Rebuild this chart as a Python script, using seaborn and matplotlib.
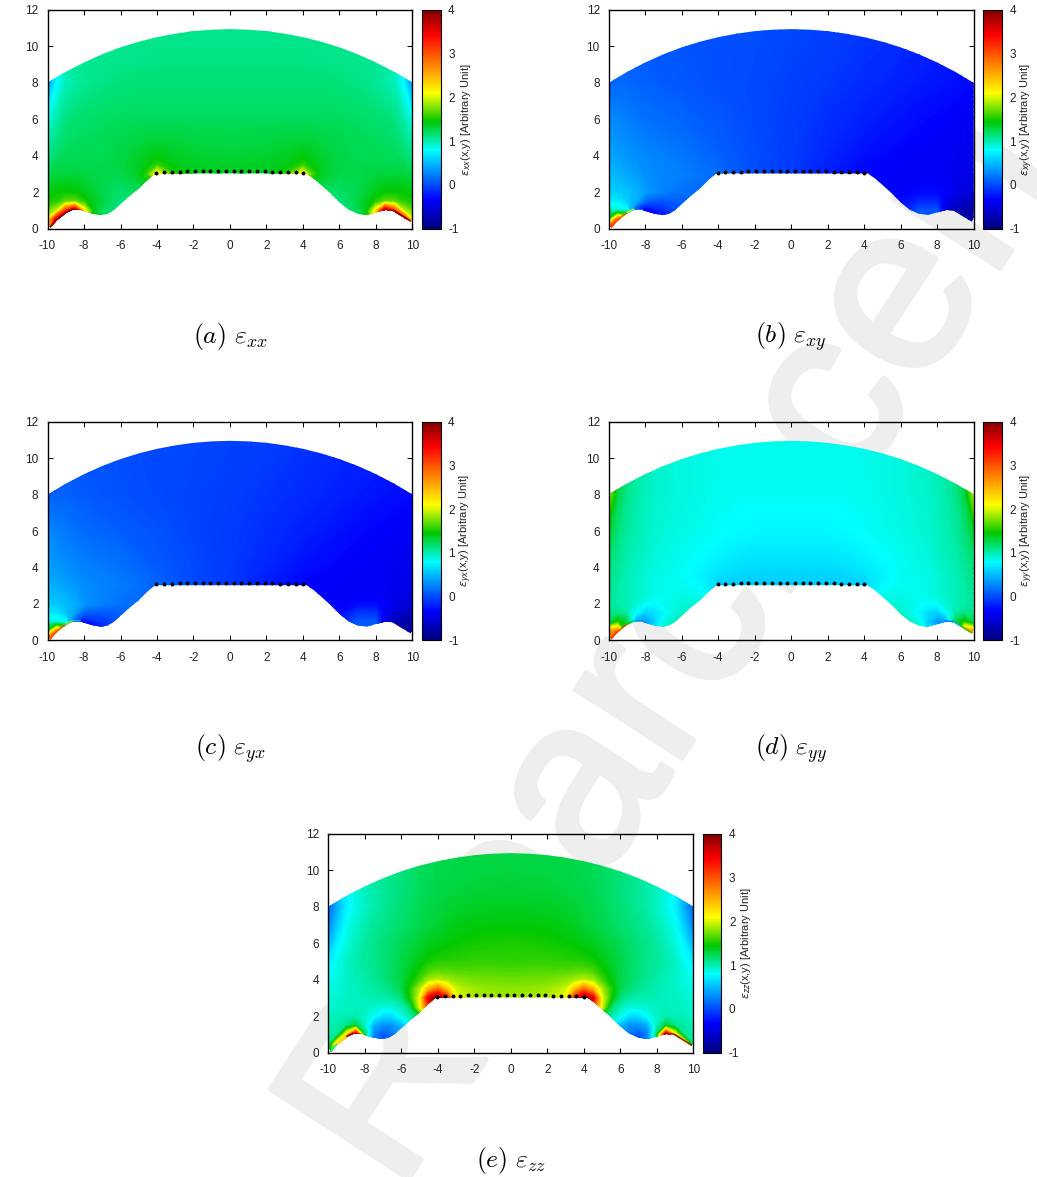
import numpy as np
import matplotlib
matplotlib.use('Agg')
import matplotlib.pyplot as plt
import matplotlib.patheffects as pe
from matplotlib.collections import LineCollection
from matplotlib.colors import LinearSegmentedColormap
from matplotlib.patches import Polygon
import seaborn as sns

# outline of the region
top_x = [-10, -9, -8, -7, -6, -5, -4, -3, -2, -1, 0, 1, 2, 3, 4, 5, 6, 7, 8, 9, 10]
top_y = [8.0, 8.6, 9.12, 9.57, 9.95, 10.26, 10.51, 10.7, 10.84, 10.92, 10.95,
         10.92, 10.84, 10.7, 10.51, 10.26, 9.95, 9.57, 9.12, 8.6, 8.0]
low_x = [10, 9.9, 9.3, 8.9, 8.5, 8, 7.5, 7, 6.5, 6, 5.5, 5, 4.6, 4.2, -4.1, -4.5, -5, -5.5, -6,
         -6.4, -6.7, -7.05, -7.5, -8, -8.2, -8.6, -9, -9.5, -9.85, -10]
low_y = [0.6, 0.38, 0.75, 1.0, 1.03, 0.9, 0.75, 0.82, 1.05, 1.45, 1.95, 2.4, 2.75, 3.03, 3.03, 2.7, 2.2, 1.8, 1.35,
         1.0, 0.82, 0.75, 0.82, 0.97, 1.05, 1.05, 0.85, 0.45, 0.05, 0.4]

# source points
dot_x = [-4.03, -3.61, -3.18, -2.76, -2.34, -1.91, -1.49, -1.07, -0.64, -0.22,
         0.2, 0.63, 1.05, 1.47, 1.9, 2.32, 2.74, 3.17, 3.59, 4.01]
dot_y = [3.08, 3.11, 3.12, 3.13, 3.14, 3.14, 3.15, 3.15, 3.15, 3.15,
         3.15, 3.15, 3.15, 3.14, 3.14, 3.13, 3.12, 3.11, 3.10, 3.08]

# left half grids for the symmetric panels
half_x = [-10, -9.5, -9, -8.5, -8, -7.5, -7, -6, -5, -4.5, -4, -3, -2, 0]
half_y = [0, 0.5, 1, 1.5, 2, 2.5, 3, 3.5, 4, 5, 6, 8, 9, 11]

exx_half = [
    [2.4, 3.8, 4.0, 4.0, 2.6, 1.5, 1.2, 1.1, 1.2, 1.3, 1.4, 1.4, 1.4, 1.4],
    [2.3, 3.6, 4.0, 4.0, 2.6, 1.5, 1.2, 1.1, 1.2, 1.3, 1.4, 1.4, 1.4, 1.4],
    [1.8, 2.1, 3.0, 3.9, 2.4, 1.45, 1.2, 1.1, 1.2, 1.3, 1.4, 1.4, 1.4, 1.4],
    [1.55, 1.6, 1.8, 1.8, 1.6, 1.4, 1.28, 1.1, 1.2, 1.3, 1.4, 1.4, 1.4, 1.4],
    [1.45, 1.5, 1.5, 1.5, 1.42, 1.35, 1.25, 1.15, 1.2, 1.3, 1.4, 1.45, 1.4, 1.4],
    [1.35, 1.4, 1.4, 1.4, 1.35, 1.3, 1.25, 1.2, 1.3, 1.4, 1.6, 1.5, 1.4, 1.4],
    [1.25, 1.3, 1.3, 1.3, 1.3, 1.28, 1.25, 1.25, 1.38, 1.7, 2.4, 1.6, 1.42, 1.4],
    [1.15, 1.25, 1.25, 1.25, 1.25, 1.25, 1.25, 1.28, 1.38, 1.48, 1.65, 1.42, 1.38, 1.36],
    [1.05, 1.15, 1.22, 1.22, 1.22, 1.22, 1.22, 1.28, 1.35, 1.4, 1.45, 1.38, 1.35, 1.33],
    [0.9, 1.05, 1.15, 1.18, 1.2, 1.2, 1.22, 1.25, 1.28, 1.3, 1.3, 1.3, 1.28, 1.27],
    [0.72, 0.95, 1.08, 1.13, 1.15, 1.17, 1.18, 1.2, 1.2, 1.2, 1.2, 1.2, 1.2, 1.2],
    [0.3, 0.65, 0.9, 0.95, 1.02, 1.05, 1.07, 1.1, 1.12, 1.12, 1.12, 1.12, 1.12, 1.12],
    [0.3, 0.7, 0.95, 1.0, 1.02, 1.03, 1.05, 1.06, 1.07, 1.07, 1.08, 1.08, 1.08, 1.08],
    [0.4, 0.8, 1.0, 1.02, 1.03, 1.04, 1.05, 1.05, 1.05, 1.05, 1.05, 1.05, 1.05, 1.05],
]

eyy_half = [
    [2.8, 2.8, 1.1, 0.8, 0.6, 0.6, 0.7, 0.9, 0.8, 0.6, 0.5, 0.5, 0.5, 0.5],
    [2.6, 2.8, 1.1, 0.8, 0.6, 0.6, 0.8, 0.9, 0.8, 0.6, 0.5, 0.5, 0.5, 0.5],
    [1.25, 1.6, 1.3, 0.35, 0.3, 0.5, 0.75, 1.0, 0.8, 0.6, 0.5, 0.5, 0.5, 0.5],
    [1.05, 1.05, 0.95, 0.65, 0.5, 0.55, 0.65, 0.85, 0.8, 0.6, 0.5, 0.5, 0.5, 0.5],
    [1.0, 0.95, 0.9, 0.8, 0.7, 0.65, 0.7, 0.8, 0.8, 0.7, 0.55, 0.5, 0.5, 0.5],
    [1.02, 0.95, 0.9, 0.85, 0.8, 0.75, 0.72, 0.75, 0.72, 0.65, 0.55, 0.5, 0.5, 0.5],
    [1.05, 0.95, 0.9, 0.85, 0.8, 0.75, 0.72, 0.72, 0.65, 0.6, 0.5, 0.5, 0.5, 0.5],
    [1.08, 0.98, 0.9, 0.85, 0.8, 0.76, 0.73, 0.7, 0.63, 0.6, 0.56, 0.53, 0.52, 0.52],
    [1.1, 1.0, 0.92, 0.87, 0.82, 0.78, 0.75, 0.7, 0.65, 0.62, 0.6, 0.57, 0.55, 0.55],
    [1.18, 1.05, 0.95, 0.9, 0.85, 0.8, 0.77, 0.72, 0.68, 0.66, 0.65, 0.62, 0.6, 0.6],
    [1.35, 1.1, 0.98, 0.92, 0.87, 0.82, 0.8, 0.75, 0.72, 0.7, 0.68, 0.66, 0.65, 0.65],
    [2.0, 1.25, 1.05, 0.95, 0.88, 0.84, 0.82, 0.78, 0.75, 0.73, 0.72, 0.7, 0.7, 0.7],
    [2.0, 1.3, 1.05, 0.97, 0.9, 0.85, 0.82, 0.78, 0.75, 0.74, 0.73, 0.72, 0.72, 0.72],
    [2.0, 1.3, 1.05, 0.97, 0.9, 0.85, 0.82, 0.78, 0.75, 0.74, 0.73, 0.72, 0.72, 0.72],
]

zz_x = [-10, -9.5, -9, -8.5, -8, -7.5, -7, -6.5, -6, -5.5, -5, -4.5, -4, -3.5, -3, -2, 0]
zz_y = [0, 0.5, 1, 1.5, 2, 2.5, 3, 3.5, 4, 4.5, 5, 6, 7, 8, 9, 11]
ezz_half = [
    [0.95, 2.5, 3.0, 3.8, 1.0, 0.3, 0.1, 0.2, 0.4, 0.6, 0.9, 1.5, 2.0, 2.2, 2.2, 2.0, 2.0],
    [0.95, 2.5, 3.0, 3.8, 1.0, 0.3, 0.1, 0.2, 0.4, 0.6, 0.9, 1.5, 2.0, 2.2, 2.2, 2.0, 2.0],
    [0.95, 1.0, 2.4, 3.8, 1.2, 0.25, 0.1, 0.2, 0.4, 0.6, 0.9, 1.5, 2.0, 2.2, 2.2, 2.0, 2.0],
    [0.9, 0.95, 1.05, 1.3, 0.85, 0.4, 0.3, 0.3, 0.42, 0.65, 0.95, 1.6, 2.1, 2.2, 2.2, 2.0, 2.0],
    [0.85, 0.9, 0.9, 0.92, 0.85, 0.68, 0.55, 0.55, 0.72, 0.95, 1.3, 2.0, 2.3, 2.3, 2.2, 2.0, 2.0],
    [0.82, 0.85, 0.87, 0.88, 0.87, 0.82, 0.78, 0.78, 0.88, 1.15, 2.2, 3.0, 3.5, 3.0, 2.4, 2.1, 2.0],
    [0.8, 0.83, 0.86, 0.88, 0.9, 0.92, 0.93, 0.97, 1.1, 1.55, 2.25, 3.4, 4.0, 3.1, 2.3, 2.05, 2.0],
    [0.75, 0.8, 0.85, 0.88, 0.92, 0.97, 1.02, 1.1, 1.25, 1.6, 2.05, 2.55, 2.8, 2.5, 2.15, 2.0, 1.95],
    [0.72, 0.78, 0.85, 0.9, 0.95, 1.0, 1.08, 1.17, 1.27, 1.45, 1.7, 2.0, 2.1, 2.02, 1.95, 1.87, 1.85],
    [0.66, 0.75, 0.85, 0.92, 0.97, 1.02, 1.1, 1.18, 1.27, 1.4, 1.55, 1.72, 1.78, 1.77, 1.75, 1.75, 1.73],
    [0.6, 0.72, 0.85, 0.93, 1.0, 1.05, 1.1, 1.18, 1.27, 1.35, 1.45, 1.55, 1.6, 1.62, 1.63, 1.65, 1.65],
    [0.4, 0.62, 0.78, 0.88, 0.98, 1.05, 1.1, 1.15, 1.22, 1.28, 1.34, 1.4, 1.43, 1.48, 1.5, 1.55, 1.58],
    [0.25, 0.5, 0.7, 0.83, 0.92, 1.0, 1.05, 1.1, 1.15, 1.2, 1.25, 1.3, 1.33, 1.38, 1.42, 1.46, 1.48],
    [0.15, 0.4, 0.62, 0.75, 0.85, 0.95, 1.0, 1.07, 1.12, 1.17, 1.22, 1.26, 1.3, 1.33, 1.35, 1.38, 1.4],
    [0.15, 0.45, 0.65, 0.78, 0.88, 0.95, 1.0, 1.05, 1.1, 1.15, 1.2, 1.23, 1.26, 1.28, 1.3, 1.32, 1.33],
    [0.2, 0.5, 0.7, 0.85, 0.92, 1.0, 1.05, 1.08, 1.1, 1.15, 1.2, 1.22, 1.25, 1.25, 1.27, 1.28, 1.28],
]

# shear panels are not symmetric, full grids
shear_x = [-10, -9.5, -9, -8.5, -8, -7, -6, -4, -2, 0, 2, 4, 6, 7, 8, 8.5, 9, 9.5, 10]
shear_y = [0, 0.5, 1, 1.5, 2, 3, 4, 6, 8, 11]
exy_vals = [
    [3.0, 3.0, 2.4, 0.2, -0.2, -0.1, 0.1, 0.1, 0.0, 0.0, -0.1, -0.2, -0.1, 0.1, 0.1, -0.4, -0.7, -0.8, -0.8],
    [1.6, 2.9, 2.4, 0.2, -0.2, -0.1, 0.1, 0.1, 0.0, 0.0, -0.1, -0.2, -0.1, 0.1, 0.1, -0.4, -0.7, -0.8, -0.8],
    [0.85, 0.85, 0.75, 0.0, -0.25, -0.05, 0.1, 0.1, 0.05, 0.0, -0.1, -0.2, -0.1, 0.1, 0.1, -0.45, -0.65, -0.75, -0.75],
    [0.62, 0.6, 0.5, 0.4, 0.15, 0.1, 0.15, 0.15, 0.05, 0.0, -0.1, -0.2, -0.15, -0.05, -0.05, -0.3, -0.45, -0.55, -0.6],
    [0.52, 0.5, 0.48, 0.42, 0.35, 0.25, 0.2, 0.18, 0.08, 0.0, -0.1, -0.2, -0.2, -0.15, -0.15, -0.2, -0.3, -0.4, -0.45],
    [0.45, 0.42, 0.38, 0.35, 0.3, 0.27, 0.25, 0.18, 0.08, 0.02, -0.08, -0.17, -0.2, -0.22, -0.22, -0.25, -0.27, -0.3, -0.35],
    [0.38, 0.35, 0.32, 0.3, 0.28, 0.25, 0.22, 0.15, 0.08, 0.03, -0.05, -0.13, -0.18, -0.2, -0.22, -0.24, -0.26, -0.28, -0.3],
    [0.3, 0.27, 0.25, 0.22, 0.2, 0.18, 0.16, 0.12, 0.07, 0.03, -0.02, -0.07, -0.12, -0.15, -0.17, -0.18, -0.2, -0.22, -0.25],
    [0.15, 0.17, 0.17, 0.16, 0.15, 0.13, 0.12, 0.09, 0.07, 0.04, 0.01, -0.03, -0.07, -0.09, -0.11, -0.12, -0.13, -0.14, -0.15],
    [0.1, 0.12, 0.12, 0.12, 0.12, 0.12, 0.1, 0.09, 0.08, 0.06, 0.04, 0.01, -0.02, -0.04, -0.06, -0.07, -0.08, -0.09, -0.1],
]
eyx_vals = [
    [3.0, 3.0, 2.2, 0.2, -0.15, -0.05, 0.1, 0.1, 0.0, 0.0, -0.1, -0.2, -0.1, 0.15, 0.15, -0.35, -0.7, -0.8, -0.8],
    [1.5, 2.8, 2.2, 0.2, -0.15, -0.05, 0.1, 0.1, 0.0, 0.0, -0.1, -0.2, -0.1, 0.15, 0.15, -0.35, -0.7, -0.8, -0.8],
    [0.8, 0.8, 0.7, 0.05, -0.2, 0.0, 0.1, 0.1, 0.05, 0.0, -0.1, -0.2, -0.1, 0.12, 0.12, -0.4, -0.65, -0.75, -0.75],
    [0.6, 0.58, 0.48, 0.35, 0.15, 0.1, 0.15, 0.15, 0.05, 0.0, -0.1, -0.2, -0.15, 0.0, 0.0, -0.28, -0.45, -0.55, -0.6],
    [0.5, 0.48, 0.45, 0.4, 0.32, 0.25, 0.2, 0.17, 0.07, 0.0, -0.1, -0.2, -0.2, -0.15, -0.15, -0.2, -0.3, -0.4, -0.45],
    [0.42, 0.4, 0.36, 0.33, 0.29, 0.26, 0.24, 0.16, 0.07, 0.01, -0.08, -0.17, -0.2, -0.22, -0.22, -0.25, -0.27, -0.3, -0.35],
    [0.36, 0.33, 0.3, 0.28, 0.26, 0.23, 0.2, 0.13, 0.07, 0.02, -0.05, -0.13, -0.18, -0.2, -0.22, -0.24, -0.26, -0.28, -0.3],
    [0.28, 0.25, 0.23, 0.2, 0.18, 0.16, 0.14, 0.1, 0.05, 0.02, -0.02, -0.07, -0.12, -0.15, -0.17, -0.18, -0.2, -0.22, -0.25],
    [0.13, 0.15, 0.15, 0.14, 0.13, 0.11, 0.1, 0.07, 0.05, 0.03, 0.0, -0.03, -0.07, -0.09, -0.11, -0.12, -0.13, -0.14, -0.15],
    [0.08, 0.1, 0.1, 0.1, 0.1, 0.1, 0.08, 0.07, 0.06, 0.05, 0.03, 0.0, -0.03, -0.05, -0.06, -0.07, -0.08, -0.09, -0.1],
]

# thin hot rims along the lower boundary
rim_left_x = [-9.85, -9.5, -9, -8.6, -8.2]
rim_left_y = [0.05, 0.45, 0.85, 1.05, 1.05]
rim_right_x = [8.4, 8.9, 9.3, 9.9]
rim_right_y = [1.03, 1.0, 0.75, 0.38]
exx_rim_l = [4.0, 4.0, 4.0, 4.0, 3.4]
exx_rim_r = [3.5, 4.0, 4.0, 3.8]
exy_rim_l = [2.9, 2.9, 2.2, 0.5, -0.2]
eyx_rim_l = [2.9, 2.9, 2.0, 0.5, -0.15]
eyy_rim_l = [3.0, 2.9, 1.4, 0.3, 0.2]
eyy_rim_r = [0.2, 0.4, 1.6, 3.0]
ezz_rim_l = [0.9, 2.4, 3.9, 4.0, 3.6]
ezz_rim_r = [3.6, 4.0, 3.6, 1.0]

# first reading of the grids assumed evenly spaced palette stops, these are the
# stops as they sit on the reference colour bar
read_stops = [-1, -0.17, 0.67, 1.5, 2.33, 3.17, 4]
bar_stops = [-1, -0.33, 0.8, 1.45, 2.1, 3.43, 4]
bar_colors = ['#00007f', '#0000ff', '#00ffff', '#00c800', '#ffff00', '#ff0000', '#7f0000']

tick_x = [-10, -8, -6, -4, -2, 0, 2, 4, 6, 8, 10]
tick_y = [0, 2, 4, 6, 8, 10, 12]
tick_c = [-1, 0, 1, 2, 3, 4]

W, H = 1037, 1177
sns.set_theme(style='white')
plt.rcParams['font.family'] = ['Liberation Sans', 'DejaVu Sans']
plt.rcParams['mathtext.fontset'] = 'cm'
plt.rcParams['axes.unicode_minus'] = False
plt.rcParams['text.color'] = '#222222'
plt.rcParams['axes.labelcolor'] = '#222222'
plt.rcParams['xtick.color'] = 'black'
plt.rcParams['ytick.color'] = 'black'
plt.rcParams['xtick.labelcolor'] = '#222222'
plt.rcParams['ytick.labelcolor'] = '#222222'

cmap = LinearSegmentedColormap.from_list('bar', [((s + 1) / 5, c) for s, c in zip(bar_stops, bar_colors)], N=512)
levels = np.linspace(-1, 4, 401)


def on_bar(vals):
    return np.interp(np.array(vals, dtype=float), read_stops, bar_stops)


def mirror(xs, half):
    # right side is the mirror of the left side
    xs = np.array(xs, dtype=float)
    half = np.array(half, dtype=float)
    return np.r_[xs, -xs[-2::-1]], np.hstack([half, half[:, -2::-1]])


def panel(left, top, xs, ys, vals, sub, tag, rims):
    right, bottom = left + 365, top + 218.7
    vals = on_bar(vals)
    ax = fig.add_axes([left / W, 1 - bottom / H, (right - left) / W, (bottom - top) / H])
    cax = fig.add_axes([(right + 9.5) / W, 1 - bottom / H, 18.5 / W, (bottom - top) / H])
    sns.heatmap(vals, ax=ax, cbar_ax=cax, cmap=cmap, vmin=-1, vmax=4,
                xticklabels=False, yticklabels=False, cbar_kws={'ticks': tick_c})
    ax.collections[0].set_visible(False)
    ax.patch.set_alpha(0)

    clip = Polygon(np.c_[top_x + low_x, top_y + low_y], transform=ax.transData, fc='none', ec='none')
    ax.add_patch(clip)
    cs = ax.contourf(xs, ys, vals, levels=levels, cmap=cmap, vmin=-1, vmax=4, extend='both')
    cs.set_clip_path(clip)

    for rx, ry, rv in rims:
        segs = [[(rx[i], ry[i]), (rx[i + 1], ry[i + 1])] for i in range(len(rx) - 1)]
        lc = LineCollection(segs, array=on_bar(rv[:-1]), cmap=cmap, clim=(-1, 4), linewidths=2.0)
        ax.add_collection(lc)
        lc.set_clip_path(clip)

    sns.scatterplot(x=dot_x, y=dot_y, ax=ax, color='black', s=8, linewidth=0, zorder=5)

    ax.set_xlim(-10, 10)
    ax.set_ylim(0, 12)
    ax.set_xticks(tick_x)
    ax.set_xticklabels([str(t) for t in tick_x])
    ax.set_yticks(tick_y)
    ax.set_yticklabels([str(t) for t in tick_y])
    ax.tick_params(direction='in', top=True, right=True, bottom=True, left=True, length=3.5, width=0.7, labelsize=8.5)
    ax.tick_params(axis='x', pad=8)
    ax.tick_params(axis='y', pad=6.5)
    ax.set_xlabel('x/λ', fontsize=8, labelpad=5)
    ax.set_ylabel('y/λ', fontsize=8, labelpad=3)
    for s in ax.spines.values():
        s.set_visible(True)
        s.set_linewidth(1.0)
        s.set_color('black')

    cax.tick_params(direction='in', left=True, right=True, length=2.5, width=0.6, labelsize=8.5, pad=5.5)
    cb = ax.collections[0].colorbar
    cb.outline.set_visible(True)
    cb.outline.set_linewidth(0.8)
    cb.outline.set_edgecolor('black')
    cax.text(2.36, 0.5, r'$\varepsilon_{' + sub + r'}$(x,y) [Arbitrary Unit]', transform=cax.transAxes,
             rotation=90, ha='center', va='center', fontsize=8, math_fontfamily='dejavusans')

    fig.text((left + right) / 2 / W, 1 - (top + 327) / H, r'$(' + tag + r')\ \varepsilon_{' + sub + '}$',
             ha='center', va='center', fontsize=18.5, color='black')


fig = plt.figure(figsize=(W / 100, H / 100), dpi=100)

# background mark, only part of it shows between the panels
wm = fig.text(398 / W, 1 - 1195 / H, 'R earchcen', rotation=57, rotation_mode='anchor', ha='left', va='baseline',
              fontsize=172, color='#eeeeee', zorder=-5)
wm.set_path_effects([pe.withStroke(linewidth=4, foreground='#eeeeee')])

x2, z2 = mirror(half_x, exx_half)
panel(47.5, 10, x2, half_y, z2, 'xx', 'a', [(rim_left_x, rim_left_y, exx_rim_l), (rim_right_x, rim_right_y, exx_rim_r)])
panel(608.7, 10, shear_x, shear_y, exy_vals, 'xy', 'b', [(rim_left_x, rim_left_y, exy_rim_l)])
panel(47.5, 421.7, shear_x, shear_y, eyx_vals, 'yx', 'c', [(rim_left_x, rim_left_y, eyx_rim_l)])
x2, z2 = mirror(half_x, eyy_half)
panel(608.7, 421.7, x2, half_y, z2, 'yy', 'd', [(rim_left_x, rim_left_y, eyy_rim_l), (rim_right_x, rim_right_y, eyy_rim_r)])
x2, z2 = mirror(zz_x, ezz_half)
panel(328.3, 834, x2, zz_y, z2, 'zz', 'e', [(rim_left_x, rim_left_y, ezz_rim_l), (rim_right_x, rim_right_y, ezz_rim_r)])

fig.savefig('out.png', dpi=100)
